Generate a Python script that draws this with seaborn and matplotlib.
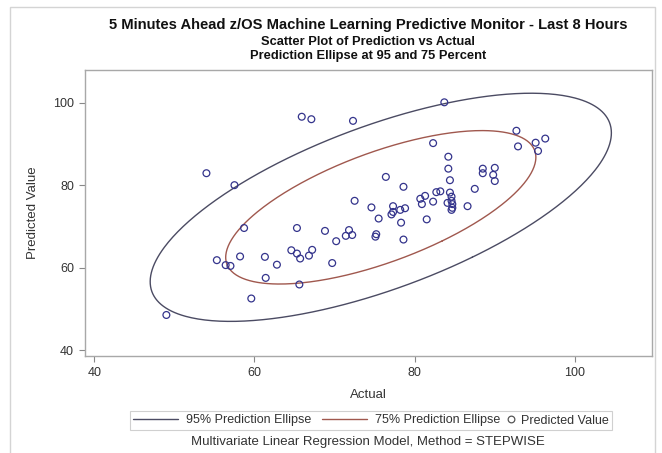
import numpy as np
import pandas as pd
import matplotlib
matplotlib.use("Agg")
import matplotlib.pyplot as plt
import seaborn as sns
from matplotlib.lines import Line2D
from matplotlib.patches import Rectangle
from matplotlib.transforms import Bbox

# Observed workload (Actual) versus the model's 5-minute-ahead forecast
actual = [54.0, 57.5, 58.7, 65.3, 68.8, 70.2, 55.3, 56.4, 57.0, 58.2, 61.3,
          64.6, 65.3, 65.7, 67.2, 66.8, 69.7, 62.8, 61.4, 65.6, 59.6, 49.0,
          65.9, 67.1, 72.3, 83.7, 82.3, 84.2, 84.2, 84.4, 88.5, 88.5, 90.0,
          89.8, 90.0, 76.4, 78.6, 87.5, 82.7, 83.2, 72.5, 74.6, 75.5, 77.3,
          77.3, 77.1, 78.2, 78.8, 78.3, 80.7, 81.3, 80.9, 82.3, 81.5,
          84.4, 84.6, 84.6, 84.1, 84.7, 84.7, 84.6, 86.6, 78.6, 75.2, 75.1,
          71.8, 72.2, 71.4, 92.7, 92.9, 95.1, 96.3, 95.4]
predicted = [82.9, 80.0, 69.6, 69.6, 68.9, 66.4, 61.8, 60.6, 60.4, 62.7, 62.6,
             64.2, 63.4, 62.2, 64.3, 62.9, 61.1, 60.7, 57.5, 55.9, 52.5, 48.5,
             96.6, 96.0, 95.6, 100.1, 90.2, 86.9, 84.0, 81.2, 84.0, 82.9, 84.2,
             82.5, 81.0, 82.0, 79.6, 79.1, 78.3, 78.5, 76.2, 74.6, 71.9, 74.9,
             73.5, 72.9, 74.0, 74.4, 70.9, 76.7, 77.4, 75.4, 76.0, 71.7,
             78.2, 77.2, 76.2, 75.7, 75.4, 74.5, 74.0, 74.9, 66.8, 68.1, 67.5,
             69.1, 67.9, 67.7, 93.2, 89.4, 90.3, 91.3, 88.3]

ellipse_levels = [0.95, 0.75]
ellipse_labels = ["95% Prediction Ellipse", "75% Prediction Ellipse"]
ellipse_colors = ["#4b4b63", "#a0584e"]
x_ticks = [40, 60, 80, 100]
y_ticks = [40, 60, 80, 100]

titles = ["5 Minutes Ahead z/OS Machine Learning Predictive Monitor - Last 8 Hours",
          "Scatter Plot of Prediction vs Actual",
          "Prediction Ellipse at 95 and 75 Percent"]
footnote = "Multivariate Linear Regression Model, Method = STEPWISE"

df = pd.DataFrame({"Actual": actual, "Predicted Value": predicted})


def prediction_ellipse(x, y, level, n_pts=400):
    """Bivariate normal prediction ellipse for a new observation."""
    data = np.column_stack([x, y])
    n, p = data.shape
    mean = data.mean(axis=0)
    cov = np.cov(data, rowvar=False)
    nu = n - p
    # quantile of F(2, nu) has a closed form
    f_crit = nu / 2.0 * ((1.0 - level) ** (-2.0 / nu) - 1.0)
    c2 = p * (n - 1) * (n + 1) / (n * (n - p)) * f_crit
    vals, vecs = np.linalg.eigh(cov)
    t = np.linspace(0, 2 * np.pi, n_pts)
    circle = np.vstack([np.cos(t), np.sin(t)])
    pts = vecs @ (np.sqrt(vals * c2)[:, None] * circle)
    return mean[0] + pts[0], mean[1] + pts[1]


sns.set_theme(style="white")
plt.rcParams["font.family"] = ["Liberation Sans", "DejaVu Sans"]

W, H = 662, 453
fig = plt.figure(figsize=(W / 100, H / 100), dpi=100)
fig.patch.set_facecolor("white")

left, right, top, bottom = 85, 651.7, 70, 355.7
ax = fig.add_axes([left / W, 1 - bottom / H, (right - left) / W, (bottom - top) / H])

for level, col in zip(ellipse_levels, ellipse_colors):
    ex, ey = prediction_ellipse(df["Actual"], df["Predicted Value"], level)
    ax.plot(ex, ey, color=col, lw=1.0, zorder=2)

sns.scatterplot(data=df, x="Actual", y="Predicted Value", ax=ax,
                marker="o", s=24, facecolor="none", edgecolor="#34348c",
                linewidth=0.9, zorder=3, legend=False)

ax.set_xlim(38.84, 109.59)
ax.set_ylim(38.62, 107.94)
ax.set_xticks(x_ticks)
ax.set_yticks(y_ticks)
ax.tick_params(axis="both", which="major", length=4, width=0.8,
               color="#888888", labelcolor="#333333", labelsize=9,
               direction="out", bottom=True, left=True, pad=4)
for s in ax.spines.values():
    s.set_color("#a8a8a8")
    s.set_linewidth(1.0)
ax.set_xlabel("Actual", fontsize=9.5, color="#333333", labelpad=7)
ax.set_ylabel("Predicted Value", fontsize=9.5, color="#333333", labelpad=10)

cx = (left + right) / 2 / W
fig.text(cx, 1 - 24.5 / H, titles[0], ha="center", va="center",
         fontsize=10.6, fontweight="bold", color="#111111")
fig.text(cx, 1 - 42 / H, titles[1], ha="center", va="center",
         fontsize=9.3, fontweight="bold", color="#111111")
fig.text(cx, 1 - 56.5 / H, titles[2], ha="center", va="center",
         fontsize=9.3, fontweight="bold", color="#111111")

# legend: two ellipse entries with long line samples, then the marker entry
leg_y = 1 - 420.5 / H
split_x = 503 / W
line_handles = [Line2D([], [], color=c, lw=1.0) for c in ellipse_colors]
marker_handle = Line2D([], [], ls="none", marker="o", ms=4.8, mfc="none",
                       mec="#555555", mew=0.9)
common = dict(frameon=False, fontsize=9, borderpad=0.25, borderaxespad=0.0,
              labelcolor="#333333")
leg1 = fig.legend(line_handles, ellipse_labels, loc="center right",
                  bbox_to_anchor=(split_x, leg_y), ncol=2, handlelength=3.6,
                  handletextpad=0.6, columnspacing=0.9, **common)
leg2 = fig.legend([marker_handle], ["Predicted Value"], loc="center left",
                  bbox_to_anchor=(split_x, leg_y), handlelength=0.8,
                  handletextpad=0.4, **common)

fig.canvas.draw()
bb = Bbox.union([leg1.get_window_extent(), leg2.get_window_extent()])
bb = bb.transformed(fig.transFigure.inverted())
fig.patches.append(Rectangle((bb.x0, bb.y0), bb.width, bb.height,
                             transform=fig.transFigure, fill=False,
                             edgecolor="#d0d0d0", lw=0.8))

fig.text(cx, 1 - 442 / H, footnote, ha="center", va="center",
         fontsize=9.5, color="#333333")

# outer graph border
fig.patches.append(Rectangle((10 / W, -0.05), (655 - 10) / W, 1 - 7 / H + 0.05,
                             transform=fig.transFigure, fill=False,
                             edgecolor="#d4d4d4", lw=1.0))

fig.savefig("out.png", dpi=100)
